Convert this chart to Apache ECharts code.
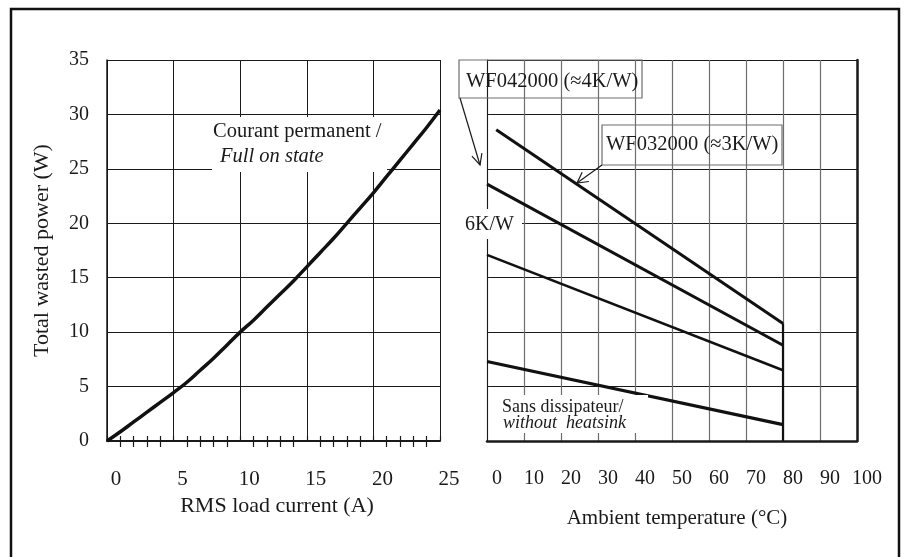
<!DOCTYPE html>
<html><head><meta charset="utf-8">
<script src="https://cdn.jsdelivr.net/npm/echarts@6/dist/echarts.min.js"></script>
<style>html,body{margin:0;padding:0;background:#fff}#c{width:904px;height:557px}</style>
</head><body><div id="c"></div>
<script>
// ---- data ----
const currentA = [0,1,2,3,4,5,6,7,8,9,10,11,12,13,14,15,16,17,18,19,20,21,22,23,24,25];
const fullOnPowerW = [0,0.85,1.75,2.65,3.55,4.45,5.4,6.5,7.6,8.8,10.0,11.1,12.3,13.5,14.7,16.0,17.3,18.6,20.0,21.4,22.8,24.3,25.8,27.3,28.8,30.4];

const wf032000Temp = [2.5, 80];   const wf032000Power = [28.6, 10.8];
const wf042000Temp = [0, 80];     const wf042000Power = [23.6, 8.8];
const sixKWTemp = [0, 80];        const sixKWPower = [17.1, 6.5];
const noSinkTemp = [0, 80];       const noSinkPower = [7.3, 1.5];
const endTemp = [80, 80];         const endPower = [0, 10.8];

const powerTicks = ['0','5','10','15','20','25','30','35'];
const currentTicks = ['0','5','10','15','20','25'];
const tempTicks = ['0','10','20','30','40','50','60','70','80','90','100'];

const zip = (a, b) => a.map((v, i) => [v, b[i]]);

const FONT = "'Liberation Serif', 'Times New Roman', serif";
const INK = '#1a1a1a';
const GRAY = '#6e6e6e';

const chart = echarts.init(document.getElementById('c'));

function arrowHead(x1, y1, x2, y2, len, ang) {
  const a = Math.atan2(y2 - y1, x2 - x1);
  return [
    [x2 - len * Math.cos(a - ang), y2 - len * Math.sin(a - ang)],
    [x2, y2],
    [x2 - len * Math.cos(a + ang), y2 - len * Math.sin(a + ang)]
  ];
}

const lineStyleThin = { color: INK, width: 1 };

const option = {
  animation: false,
  backgroundColor: '#fff',
  textStyle: { fontFamily: FONT },
  grid: [
    { left: 107, right: 464, top: 60, bottom: 116 },
    { left: 487, right: 47, top: 60, bottom: 116 }
  ],
  xAxis: [
    { gridIndex: 0, type: 'value', min: 0, max: 25, interval: 5, position: 'bottom',
      name: 'RMS load current (A)', nameLocation: 'middle', nameGap: 52,
      nameTextStyle: { fontFamily: FONT, fontSize: 22, color: INK, padding: [0,0,0,7] },
      axisLine: { lineStyle: { color: INK, width: 2 } },
      axisTick: { show: false },
      minorTick: { show: true, splitNumber: 5, length: 6, lineStyle: { color: INK, width: 1.2 } },
      axisLabel: { margin: 28, fontFamily: FONT, fontSize: 21, color: INK, padding: [0,0,0,18],
        formatter: (v) => currentTicks[Math.round(v / 5)] },
      splitLine: { show: true, lineStyle: lineStyleThin } },
    { gridIndex: 0, type: 'value', min: 0, max: 25, interval: 1, position: 'bottom',
      axisLine: { show: false, onZero: false }, axisLabel: { show: false }, splitLine: { show: false },
      axisTick: { show: true, inside: true, length: 5, lineStyle: { color: INK, width: 1.2 } } },
    { gridIndex: 1, type: 'value', min: 0, max: 100, interval: 10, position: 'bottom',
      name: 'Ambient temperature (°C)', nameLocation: 'middle', nameGap: 67,
      nameTextStyle: { fontFamily: FONT, fontSize: 21, color: INK, padding: [0,0,0,10] },
      axisLine: { lineStyle: { color: INK, width: 2.5 } },
      axisTick: { show: false },
      axisLabel: { margin: 28, fontFamily: FONT, fontSize: 20, color: INK, padding: [0,0,0,20],
        formatter: (v) => tempTicks[Math.round(v / 10)] },
      splitLine: { show: true, lineStyle: { color: GRAY, width: 1.2 } } }
  ],
  yAxis: [
    { gridIndex: 0, type: 'value', min: 0, max: 35, interval: 5,
      name: 'Total wasted power (W)', nameLocation: 'middle', nameGap: 54, nameRotate: 90,
      nameTextStyle: { fontFamily: FONT, fontSize: 22, color: INK },
      axisLine: { show: true, lineStyle: { color: INK, width: 1.5 } },
      axisTick: { show: false },
      axisLabel: { margin: 18, fontFamily: FONT, fontSize: 20, color: INK,
        formatter: (v) => powerTicks[Math.round(v / 5)] },
      splitLine: { show: true, lineStyle: lineStyleThin } },
    { gridIndex: 1, type: 'value', min: 0, max: 35, interval: 5,
      axisLine: { show: true, lineStyle: { color: INK, width: 1 } },
      axisTick: { show: false }, axisLabel: { show: false },
      splitLine: { show: true, lineStyle: lineStyleThin } },
    { gridIndex: 1, type: 'value', min: 0, max: 35, position: 'right',
      axisLine: { show: true, onZero: false, lineStyle: { color: INK, width: 2.5 } },
      axisTick: { show: false }, axisLabel: { show: false }, splitLine: { show: false } }
  ],
  series: [
    { type: 'line', xAxisIndex: 0, yAxisIndex: 0, data: zip(currentA, fullOnPowerW),
      smooth: true, showSymbol: false, lineStyle: { color: '#111', width: 3.5 } },
    { type: 'line', xAxisIndex: 2, yAxisIndex: 1, data: zip(wf032000Temp, wf032000Power),
      showSymbol: false, lineStyle: { color: '#111', width: 3 } },
    { type: 'line', xAxisIndex: 2, yAxisIndex: 1, data: zip(wf042000Temp, wf042000Power),
      showSymbol: false, lineStyle: { color: '#111', width: 3 } },
    { type: 'line', xAxisIndex: 2, yAxisIndex: 1, data: zip(sixKWTemp, sixKWPower),
      showSymbol: false, lineStyle: { color: '#111', width: 2.6 } },
    { type: 'line', xAxisIndex: 2, yAxisIndex: 1, data: zip(noSinkTemp, noSinkPower),
      showSymbol: false, lineStyle: { color: '#111', width: 3.2 } },
    { type: 'line', xAxisIndex: 2, yAxisIndex: 1, data: zip(endTemp, endPower),
      showSymbol: false, lineStyle: { color: '#111', width: 2.2 } }
  ]
};
chart.setOption(option);

// ---- annotations ----
const txt = (x, y, s, size, italic) => ({
  type: 'text', z: 110, x: x, y: y,
  style: { text: s, fontFamily: FONT, fontSize: size, fontStyle: italic ? 'italic' : 'normal',
    fill: INK, verticalAlign: 'middle', align: 'left' }
});
const whiteRect = (x, y, w, h) => ({ type: 'rect', z: 105, shape: { x, y, width: w, height: h },
  style: { fill: '#fff' } });
const grayBox = (x, y, w, h) => ({ type: 'rect', z: 106, shape: { x, y, width: w, height: h },
  style: { fill: 'none', stroke: GRAY, lineWidth: 1.2 } });
const seg = (pts, w) => ({ type: 'polyline', z: 107, shape: { points: pts },
  style: { fill: 'none', stroke: INK, lineWidth: w || 1.2 } });

const a1 = [[460, 98], [480, 165]];
const a2 = [[602, 165], [577, 183]];

chart.setOption({
  graphic: [
    { type: 'rect', z: 120, shape: { x: 11, y: 9, width: 888, height: 570 },
      style: { fill: 'none', stroke: '#111', lineWidth: 2.5 } },
    // full on state label
    whiteRect(212, 117, 175, 55),
    txt(213, 132, 'Courant permanent /', 20.5, false),
    txt(220, 157, 'Full on state', 20.5, true),
    // WF042000 label
    grayBox(459, 60, 183, 38),
    txt(466, 82, 'WF042000 (\u22484K/W)', 20.5, false),
    seg(a1),
    seg(arrowHead(a1[0][0], a1[0][1], a1[1][0], a1[1][1], 12, 0.45)),
    // WF032000 label
    grayBox(602, 125, 180, 40),
    txt(606, 145, 'WF032000 (\u22483K/W)', 20.5, false),
    seg(a2),
    seg(arrowHead(a2[0][0], a2[0][1], a2[1][0], a2[1][1], 12, 0.5)),
    // 6K/W label
    whiteRect(460, 209, 62, 30),
    txt(465, 225, '6K/W', 20, false),
    // without heatsink label
    whiteRect(500, 395, 148, 38),
    txt(502, 407, 'Sans dissipateur/', 18, false),
    txt(503, 423, 'without  heatsink', 18, true)
  ]
});
</script>
</body></html>
